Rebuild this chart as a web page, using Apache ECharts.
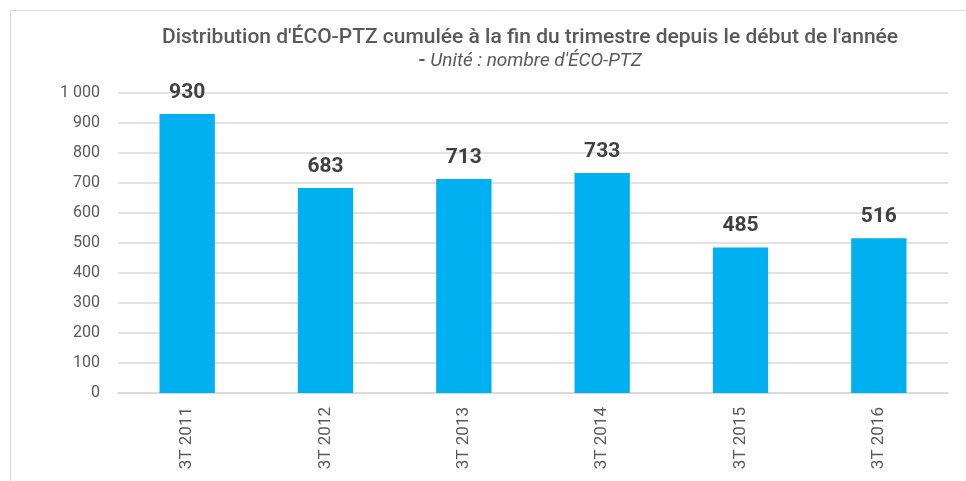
<!DOCTYPE html>
<html>
<head>
<meta charset="utf-8">
<script src="https://cdn.jsdelivr.net/npm/echarts@6/dist/echarts.min.js"></script>
<style>
  html, body { margin: 0; padding: 0; background: #fff; }
  #chart { width: 966px; height: 481px; }
</style>
</head>
<body>
<div id="chart"></div>
<script>
// données du graphique
const categories = ['3T 2011', '3T 2012', '3T 2013', '3T 2014', '3T 2015', '3T 2016'];
const ecoPtz = [930, 683, 713, 733, 485, 516];

const chart = echarts.init(document.getElementById('chart'));

const option = {
  backgroundColor: '#fff',
  animation: false,
  graphic: [
    {
      type: 'rect',
      shape: { x: 10.5, y: 10.5, width: 980, height: 500 },
      style: { fill: 'none', stroke: '#d9d9d9', lineWidth: 1 },
      silent: true
    }
  ],
  title: {
    text: "Distribution d'ÉCO-PTZ cumulée à la fin du trimestre depuis le début de l'année",
    subtext: "{d|- }{i|Unité : nombre d'ÉCO-PTZ}",
    left: 525,
    textAlign: 'center',
    top: 22,
    itemGap: 4,
    textStyle: {
      fontFamily: 'Roboto',
      fontSize: 21,
      fontWeight: 500,
      color: '#595959'
    },
    subtextStyle: {
      fontFamily: 'Roboto',
      fontSize: 19,
      color: '#595959',
      rich: {
        d: { fontFamily: 'Roboto', fontSize: 19, fontWeight: 'bold', color: '#595959' },
        i: { fontFamily: 'Roboto', fontSize: 19, fontStyle: 'italic', color: '#595959' }
      }
    }
  },
  grid: {
    left: 118,
    right: 18,
    top: 93,
    bottom: 88
  },
  xAxis: {
    type: 'category',
    data: categories,
    axisLine: { lineStyle: { color: '#d9d9d9', width: 1.5 } },
    axisTick: { show: false },
    axisLabel: {
      rotate: 90,
      margin: 14,
      fontFamily: 'Roboto',
      fontSize: 17,
      color: '#595959'
    }
  },
  yAxis: {
    type: 'value',
    min: 0,
    max: 1000,
    interval: 100,
    axisLine: { show: false },
    axisTick: { show: false },
    splitLine: { lineStyle: { color: '#d9d9d9', width: 1.5 } },
    axisLabel: {
      margin: 18,
      fontFamily: 'Roboto',
      fontSize: 16,
      color: '#595959',
      formatter: v => v >= 1000 ? String(v).replace(/\B(?=(\d{3})+(?!\d))/g, ' ') : String(v)
    }
  },
  series: [
    {
      type: 'bar',
      data: ecoPtz,
      barWidth: '40%',
      itemStyle: { color: '#00b0f0' },
      label: {
        show: true,
        position: 'top',
        distance: 11,
        fontFamily: 'Roboto',
        fontSize: 21,
        fontWeight: 'bold',
        color: '#404040'
      }
    }
  ]
};

chart.setOption(option);
</script>
</body>
</html>
